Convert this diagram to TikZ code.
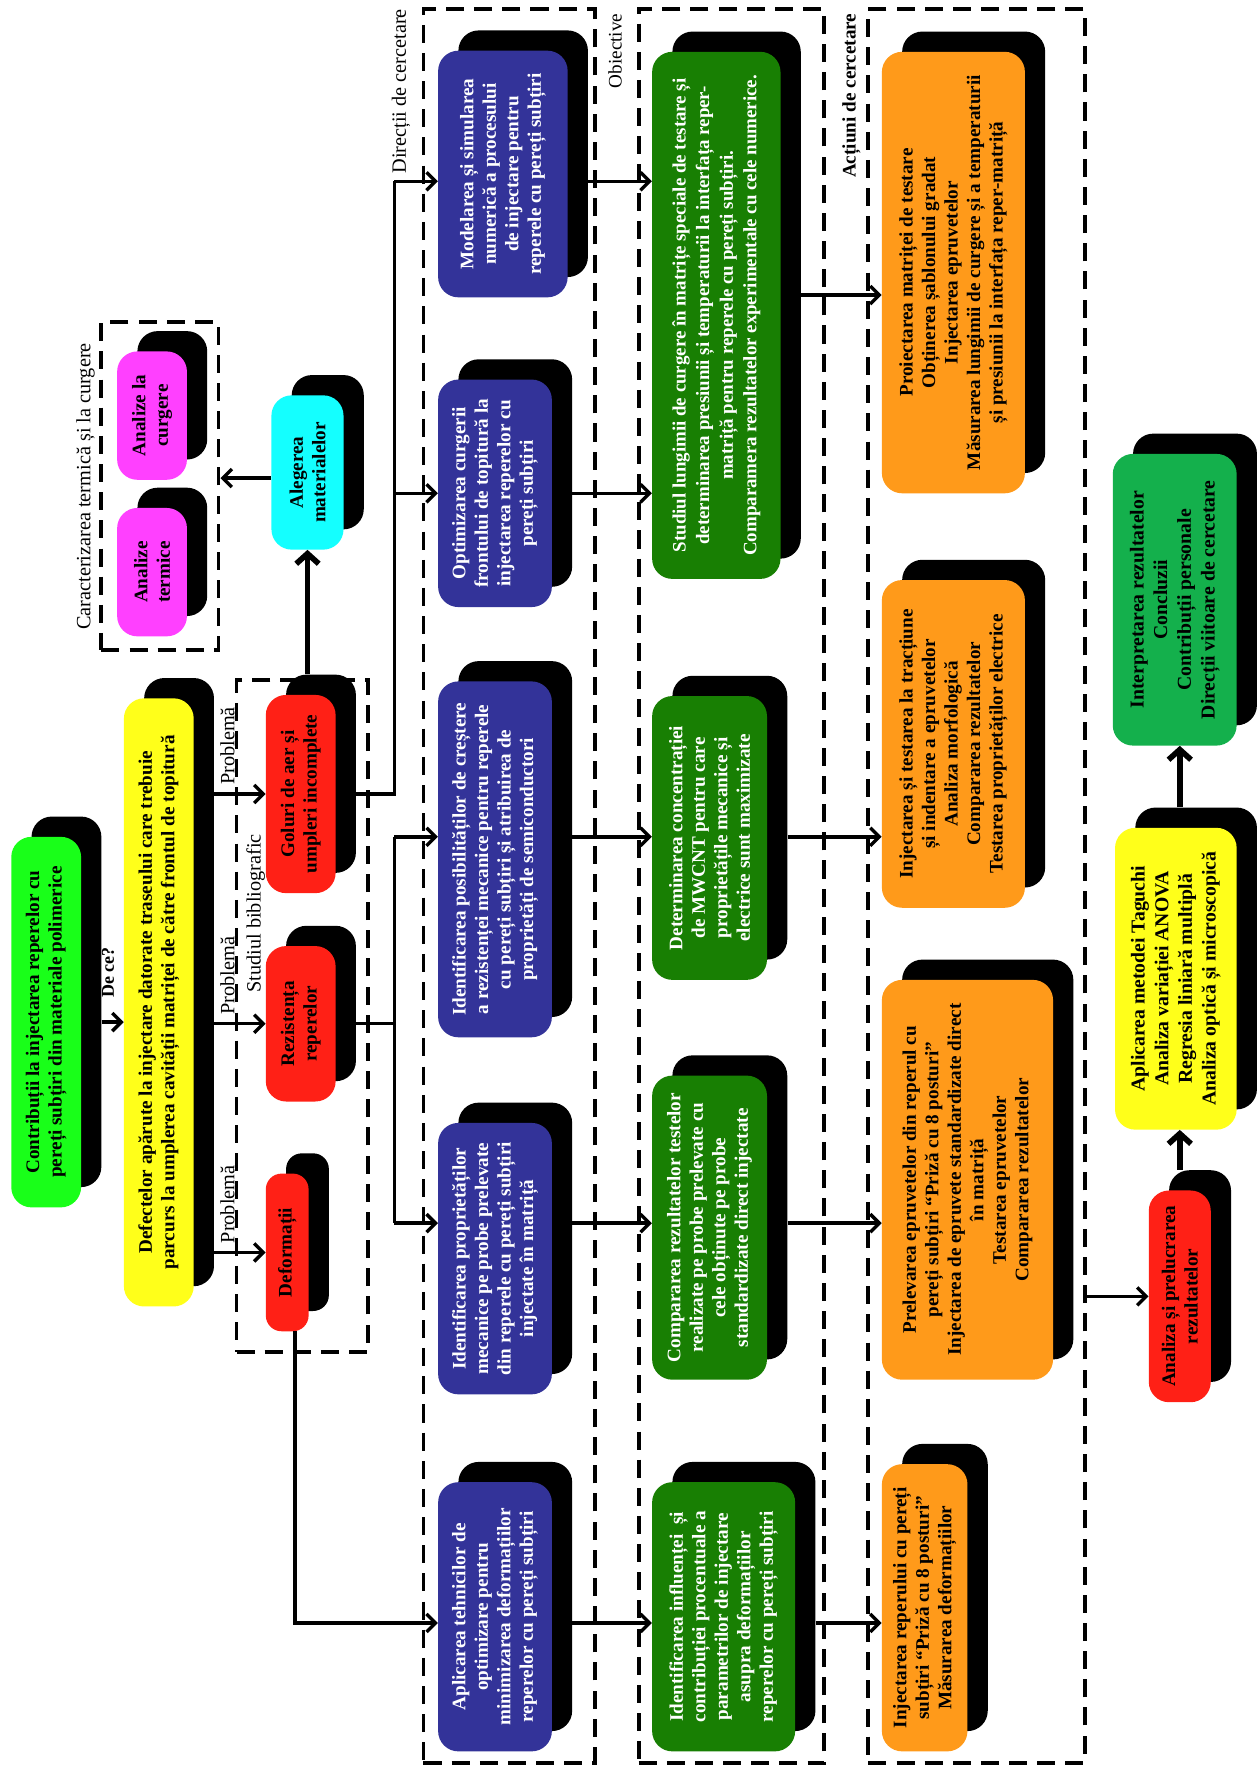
\documentclass[tikz,border=0pt]{standalone}
\usepackage{fontspec}
\setmainfont{Liberation Serif}
\usetikzlibrary{arrows.meta,shadows,calc}
\definecolor{cLime}{HTML}{19FF19}
\definecolor{cYel}{HTML}{FFFF1A}
\definecolor{cRed}{HTML}{FF2016}
\definecolor{cCyan}{HTML}{14FFFF}
\definecolor{cMag}{HTML}{FF40FF}
\definecolor{cBlue}{HTML}{333399}
\definecolor{cDGreen}{HTML}{187F03}
\definecolor{cOrange}{HTML}{FF9A1A}
\definecolor{cGreen2}{HTML}{14B04C}
\begin{document}
\begin{tikzpicture}[x=1pt,y=-1pt,
  bx/.style={rounded corners=18pt, inner sep=0pt, general shadow={fill=black, shadow xshift=18pt, shadow yshift=18pt}},
  tx/.style={rotate=90, align=center, inner sep=0pt, font=\bfseries\fontsize{17}{20}\selectfont},
  lbl/.style={rotate=90, inner sep=0pt, font=\fontsize{18}{21}\selectfont},
  dbox/.style={draw, line width=3.5pt, dash pattern=on 16pt off 9pt, inner sep=0pt},
  ln/.style={line width=3pt},
  arr/.style={line width=3pt, -{Straight Barb[length=8pt,width=16pt]}},
  tarr/.style={line width=5pt, -{Straight Barb[length=9pt,width=20pt]}}
]
\useasboundingbox (0,0) rectangle (1116,1568);

% dashed groups
\node[dbox, minimum width=104pt, minimum height=291pt] (carbox) at (142,431.5) {};
\node[dbox, minimum width=117pt, minimum height=596pt] (biblio) at (268.5,902) {};
\node[dbox, minimum width=152pt, minimum height=1557pt] (dirbox) at (452,786.5) {};
\node[dbox, minimum width=165pt, minimum height=1557pt] (objbox) at (649.5,786.5) {};
\node[dbox, minimum width=192pt, minimum height=1557pt] (actbox) at (867,786.5) {};

% group labels
\node[lbl] (lcar) at (76,432) {Caracterizarea termică și la curgere};
\node[lbl] (lbib) at (227,811) {Studiul bibliografic};
\node[lbl, anchor=east] (ldir) at (356,8) {Direcții de cercetare};
\node[lbl, anchor=east, font=\fontsize{17}{20}\selectfont] (lobj) at (546,12) {Obiective};
\node[lbl, anchor=east, font=\bfseries\fontsize{17}{20}\selectfont] (lact) at (756,12) {Acțiuni de cercetare};

% boxes
\node[bx, fill=cLime, minimum width=62pt, minimum height=329pt] (contrib) at (41,907.5) {};
\node[tx] at (contrib) {Contribuții la injectarea reperelor cu\\pereți subțiri din materiale polimerice};

\node[bx, fill=cYel, minimum width=62pt, minimum height=540pt] (defect) at (141,890) {};
\node[tx] at (defect) {Defectelor apărute la injectare datorate traseului care trebuie\\parcurs la umplerea cavității matriței de către frontul de topitură};

\node[bx, fill=cRed, minimum width=62pt, minimum height=176pt] (gol) at (267,705) {};
\node[tx] at (gol) {Goluri de aer și\\umpleri incomplete};

\node[bx, fill=cRed, minimum width=62pt, minimum height=138pt] (rez) at (267,909) {};
\node[tx] at (rez) {Rezistența\\reperelor};

\node[bx, fill=cRed, rounded corners=14pt, minimum width=38pt, minimum height=140pt] (def) at (255,1112) {};
\node[tx] at (def) {Deformații};

\node[bx, fill=cCyan, minimum width=64pt, minimum height=137pt] (cyan) at (273,419.5) {};
\node[tx] at (cyan) {Alegerea\\materialelor};

\node[bx, fill=cMag, minimum width=62pt, minimum height=114pt] (cur) at (135,369) {};
\node[tx] at (cur) {Analize la\\curgere};

\node[bx, fill=cMag, minimum width=62pt, minimum height=114pt] (term) at (135,508) {};
\node[tx] at (term) {Analize\\termice};

\node[bx, fill=cBlue, minimum width=115pt, minimum height=219pt] (mod) at (446.5,154.5) {};
\node[tx, text=white] at (mod) {Modelarea și simularea\\numerică a procesului\\de injectare pentru\\reperele cu pereți subțiri};

\node[bx, fill=cBlue, minimum width=101pt, minimum height=202pt] (opt) at (439.5,438) {};
\node[tx, text=white] at (opt) {Optimizarea curgerii\\frontului de topitură la\\injectarea reperelor cu\\pereți subțiri};

\node[bx, fill=cBlue, minimum width=101pt, minimum height=316pt] (ipos) at (439.5,763) {};
\node[tx, text=white] at (ipos) {Identificarea posibilităților de creștere\\a rezistenței mecanice pentru reperele\\cu pereți subțiri și atribuirea de\\proprietăți de semiconductori};

\node[bx, fill=cBlue, minimum width=101pt, minimum height=241pt] (iprop) at (439.5,1117.5) {};
\node[tx, text=white] at (iprop) {Identificarea proprietăților\\mecanice pe probe prelevate\\din reperele cu pereți subțiri\\injectate în matriță};

\node[bx, fill=cBlue, minimum width=101pt, minimum height=239pt] (apl) at (439.5,1435.5) {};
\node[tx, text=white] at (apl) {Aplicarea tehnicilor de\\optimizare pentru\\minimizarea deformațiilor\\reperelor cu pereți subțiri};

\node[bx, fill=cDGreen, minimum width=114pt, minimum height=468pt] (stud) at (636,280) {};
\node[tx, text=white, font=\bfseries\fontsize{16.8}{21}\selectfont] at (stud) {Studiul lungimii de curgere în matrițe speciale de testare și\\determinarea presiunii și temperaturii la interfața reper-\\matriță pentru reperele cu pereți subțiri.\\Comparamera rezultatelor experimentale cu cele numerice.};

\node[bx, fill=cDGreen, minimum width=102pt, minimum height=252pt] (det) at (630,744) {};
\node[tx, text=white] at (det) {Determinarea concentrației\\de MWCNT pentru care\\proprietățile mecanice și\\electrice sunt maximizate};

\node[bx, fill=cDGreen, minimum width=102pt, minimum height=270pt] (comp) at (630,1090) {};
\node[tx, text=white] at (comp) {Compararea rezultatelor testelor\\realizate pe probe prelevate cu\\cele obținute pe probe\\standardizate direct injectate};

\node[bx, fill=cDGreen, minimum width=127pt, minimum height=239pt] (iinf) at (642.5,1435.5) {};
\node[tx, text=white] at (iinf) {Identificarea influenței\ \ și\\contribuției procentuale a\\parametrilor de injectare\\asupra deformațiilor\\reperelor cu pereți subțiri};

\node[bx, fill=cOrange, minimum width=127pt, minimum height=392pt] (proi) at (846.5,242) {};
\node[tx] at (proi) {Proiectarea matriței de testare\\Obținerea șablonului gradat\\Injectarea epruvetelor\\Măsurarea lungimii de curgere și a temperaturii\\și presiunii la interfața reper-matriță};

\node[bx, fill=cOrange, minimum width=127pt, minimum height=291pt] (injt) at (846.5,660.5) {};
\node[tx] at (injt) {Injectarea și testarea la tracțiune\\și indentare a epruvetelor\\Analiza morfologică\\Compararea rezultatelor\\Testarea proprietăților electrice};

\node[bx, fill=cOrange, minimum width=152pt, minimum height=355pt] (prel) at (859,1047.5) {};
\node[tx] at (prel) {Prelevarea epruvetelor din reperul cu\\pereți subțiri “Priză cu 8 posturi”\\Injectarea de epruvete standardizate direct\\în matriță\\Testarea epruvetelor\\Compararea rezultatelor};

\node[bx, fill=cOrange, minimum width=76pt, minimum height=255pt] (injr) at (821,1427.5) {};
\node[tx] at (injr) {Injectarea reperului cu pereți\\subțiri “Priză cu 8 posturi”\\Măsurarea deformațiilor};

\node[bx, fill=cRed, minimum width=55pt, minimum height=188pt] (anal) at (1047.5,1151) {};
\node[tx] at (anal) {Analiza și prelucrarea\\rezultatelor};

\node[bx, fill=cYel, minimum width=108pt, minimum height=268pt] (tag) at (1044,869) {};
\node[tx, font=\bfseries\fontsize{17.5}{21}\selectfont] at (tag) {Aplicarea metodei Taguchi\\Analiza variației ANOVA\\Regresia liniară multiplă\\Analiza optică și microscopică};

\node[bx, fill=cGreen2, minimum width=110pt, minimum height=259pt] (interp) at (1043,532.5) {};
\node[tx, font=\bfseries\fontsize{17.5}{21}\selectfont] at (interp) {Interpretarea rezultatelor\\Concluzii\\Contribuții personale\\Direcții viitoare de cercetare};

% rows and helper coordinates
\coordinate (r1) at (0,161);
\coordinate (r2) at (0,438);
\coordinate (rs) at (0,262);
\coordinate (r3) at (0,743);
\coordinate (r4) at (0,1086);
\coordinate (r5) at (0,1441);
\coordinate (busT) at (350,0);
\coordinate (dS) at ([xshift=18pt]defect.east);
\coordinate (golTop) at ([yshift=18pt]gol.north);
\coordinate (tagTop) at ([yshift=18pt]tag.north);
\coordinate (modS) at ([xshift=18pt]mod.east);
\coordinate (optS) at ([xshift=18pt]opt.east);
\coordinate (iposS) at ([xshift=18pt]ipos.east);
\coordinate (ipropS) at ([xshift=18pt]iprop.east);
\coordinate (aplS) at ([xshift=18pt]apl.east);
\coordinate (studS) at ([xshift=18pt]stud.east);
\coordinate (detS) at ([xshift=18pt]det.east);
\coordinate (compS) at ([xshift=18pt]comp.east);
\coordinate (iinfS) at ([xshift=18pt]iinf.east);
\coordinate (defB) at ([xshift=7pt]def.south);

% labels on connectors
\node[lbl, anchor=west, font=\bfseries\fontsize{16}{19}\selectfont] (dece) at (96,886) {De ce?};
\node[lbl, anchor=west] (p1) at (202,697) {Problemă};
\node[lbl, anchor=west] (p2) at (202,901) {Problemă};
\node[lbl, anchor=west] (p3) at (202,1104) {Problemă};

% connectors
\draw[arr] ([xshift=18pt]contrib.east) -- (contrib.east -| defect.west);
\draw[arr] (dS |- gol.west) -- (gol.west);
\draw[arr] (dS |- rez.west) -- (rez.west);
\draw[arr] (dS |- def.west) -- (def.west);
\draw[tarr] (cyan.south |- golTop) -- (cyan.south);
\draw[arr] ([yshift=-5pt]cyan.west) -- ([yshift=-5pt]cyan.west -| carbox.east);

\draw[ln] ([xshift=18pt]gol.east) -| (busT |- r1);
\draw[arr] (busT |- r1) -- (mod.west |- r1);
\draw[arr] (busT |- r2) -- (opt.west |- r2);
\draw[ln] ([xshift=18pt]rez.east) -- (busT |- rez.east);
\draw[ln] (busT |- r3) -- (busT |- r4);
\draw[arr] (busT |- r3) -- (ipos.west |- r3);
\draw[arr] (busT |- r4) -- (iprop.west |- r4);
\draw[arr] (defB) |- (apl.west |- r5);

\draw[arr] (modS |- r1) -- (stud.west |- r1);
\draw[arr] (optS |- r2) -- (stud.west |- r2);
\draw[arr] (iposS |- r3) -- (det.west |- r3);
\draw[arr] (ipropS |- r4) -- (comp.west |- r4);
\draw[arr] (aplS |- r5) -- (iinf.west |- r5);

\draw[arr] (studS |- rs) -- (proi.west |- rs);
\draw[arr] (detS |- r3) -- (injt.west |- r3);
\draw[arr] (compS |- r4) -- (prel.west |- r4);
\draw[arr] (iinfS |- r5) -- (injr.west |- r5);

\draw[arr] (actbox.east |- anal.west) -- (anal.west);
\draw[tarr] ([yshift=18pt]anal.north) -- (anal.north |- tag.south);
\draw[tarr] (tagTop -| anal.north) -- (anal.north |- interp.south);
\end{tikzpicture}
\end{document}
